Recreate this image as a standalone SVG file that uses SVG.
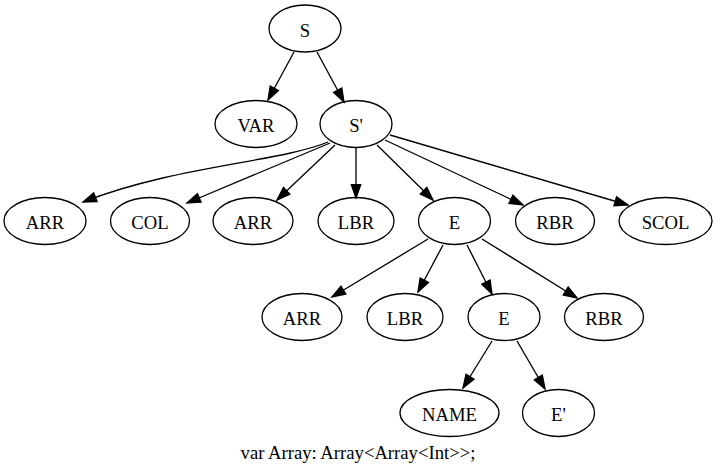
<svg xmlns="http://www.w3.org/2000/svg" width="718" height="474" viewBox="0 0 718 474">
<style>
.n ellipse{fill:none;stroke:#000;stroke-width:1.33}
text{font-family:"Liberation Serif","Times New Roman",serif;font-size:18.67px;text-anchor:middle;fill:#000}
.e path{fill:none;stroke:#000;stroke-width:1.33;marker-end:url(#ah)}
</style>
<defs>
<marker id="ah" markerUnits="userSpaceOnUse" markerWidth="14" markerHeight="10" refX="13.3" refY="4.67" orient="auto" overflow="visible">
<path d="M0,0 L13.3,4.67 L0,9.33 Z" fill="#000" stroke="#000" stroke-width="1.33"/>
</marker>
</defs>
<rect width="718" height="474" fill="#fff"/>
<g id="edges" class="e">
<path d="M294,52 L268,100"/>
<path d="M317,52 L344,102"/>
<path d="M328,142 C280,162 175,166 83,202"/>
<path d="M330,143 L187,203"/>
<path d="M335,145 L277,200"/>
<path d="M356,147 L356,198"/>
<path d="M377,145 L433,200"/>
<path d="M385,140 L523,205"/>
<path d="M390,135 L628,205"/>
<path d="M428,239 L332,297"/>
<path d="M443,245 L418,292"/>
<path d="M467,245 L492,294"/>
<path d="M482,239 L577,298"/>
<path d="M492,341 L463,388"/>
<path d="M517,341 L545,389"/>
</g>
<g id="S" class="n"><ellipse cx="305" cy="28.5" rx="36" ry="23.5"/><text x="305" y="36.5">S</text></g>
<g id="VAR" class="n"><ellipse cx="256" cy="124" rx="41" ry="23.5"/><text x="256" y="132">VAR</text></g>
<g id="Sp" class="n"><ellipse cx="356" cy="124" rx="36" ry="23.5"/><text x="356" y="132">S'</text></g>
<g id="ARR1" class="n"><ellipse cx="45" cy="221" rx="41" ry="23.5"/><text x="45" y="229">ARR</text></g>
<g id="COL" class="n"><ellipse cx="150" cy="221" rx="39.5" ry="23.5"/><text x="150" y="229">COL</text></g>
<g id="ARR2" class="n"><ellipse cx="253" cy="221" rx="40" ry="23.5"/><text x="253" y="229">ARR</text></g>
<g id="LBR1" class="n"><ellipse cx="356" cy="221" rx="38" ry="23.5"/><text x="356" y="229">LBR</text></g>
<g id="E1" class="n"><ellipse cx="454.5" cy="221" rx="36" ry="23.5"/><text x="454.5" y="229">E</text></g>
<g id="RBR1" class="n"><ellipse cx="555" cy="221" rx="39.5" ry="23.5"/><text x="555" y="229">RBR</text></g>
<g id="SCOL" class="n"><ellipse cx="665.5" cy="221" rx="46.5" ry="23.5"/><text x="665.5" y="229">SCOL</text></g>
<g id="ARR3" class="n"><ellipse cx="302" cy="317" rx="40" ry="23.5"/><text x="302" y="325">ARR</text></g>
<g id="LBR2" class="n"><ellipse cx="405" cy="317" rx="38" ry="23.5"/><text x="405" y="325">LBR</text></g>
<g id="E2" class="n"><ellipse cx="504" cy="317" rx="36" ry="23.5"/><text x="504" y="325">E</text></g>
<g id="RBR2" class="n"><ellipse cx="604" cy="317" rx="39.5" ry="23.5"/><text x="604" y="325">RBR</text></g>
<g id="NAME" class="n"><ellipse cx="449.5" cy="413" rx="49.5" ry="23.5"/><text x="449.5" y="421">NAME</text></g>
<g id="Ep" class="n"><ellipse cx="558.5" cy="413" rx="36" ry="23.5"/><text x="558.5" y="421">E'</text></g>
<text x="358" y="459">var Array: Array&lt;Array&lt;Int&gt;&gt;;</text>
</svg>
